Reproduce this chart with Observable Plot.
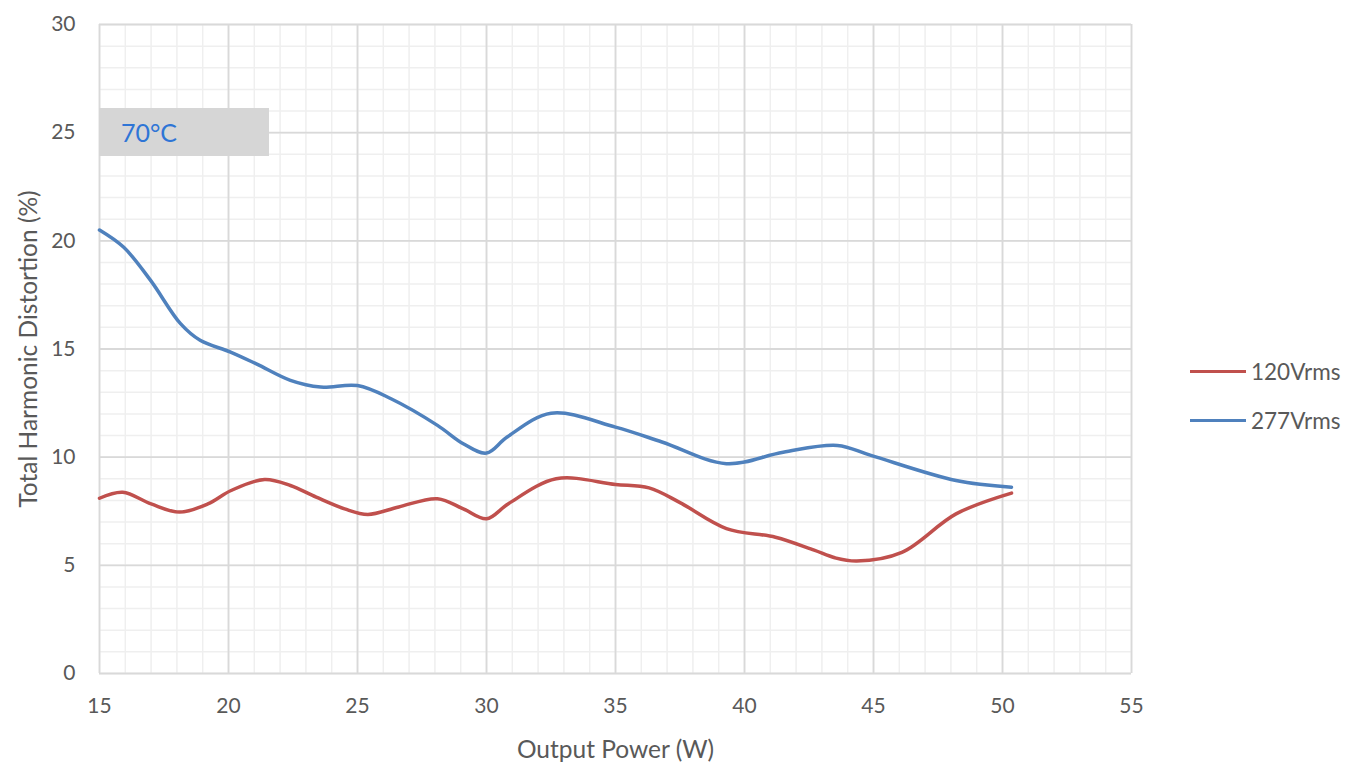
<!DOCTYPE html>
<html>
<head>
<meta charset="utf-8">
<script src="https://cdn.jsdelivr.net/npm/d3@7"></script>
<script src="https://cdn.jsdelivr.net/npm/@observablehq/plot@0.6"></script>
<style>
  html, body { margin: 0; padding: 0; background: #fff; }
  #wrap { position: relative; width: 1348px; height: 763px; font-family: Lato, "Open Sans", sans-serif; }
  #wrap svg { font-family: Lato, "Open Sans", sans-serif; }
  .legend { position: absolute; left: 1190px; font-size: 22.5px; color: #595959; display: flex; align-items: center; }
  .legend .sw { width: 56px; height: 3px; margin-right: 5px; }
  .note { position: absolute; left: 99px; top: 108px; width: 170px; height: 48px; background: #d6d6d6;
          color: #2e75d6; font-size: 25px; line-height: 48px; box-sizing: border-box; padding-left: 22px; }
</style>
</head>
<body>
<div id="wrap"></div>
<script>
// ---- data ----
const x120 = [15, 15.9, 17, 18.1, 19.2, 20.1, 21.4, 22.4, 23.4, 24.5, 25.4, 26.6, 28.1, 29.1, 30, 30.85, 32.7, 35, 36.3, 37.5, 39.3, 41.2, 42.7, 43.5, 44.35, 46.1, 48.2, 50.35];
const y120 = [8.1, 8.38, 7.84, 7.46, 7.84, 8.46, 8.97, 8.69, 8.15, 7.61, 7.35, 7.7, 8.08, 7.61, 7.15, 7.85, 9.0, 8.74, 8.58, 7.9, 6.7, 6.3, 5.7, 5.35, 5.2, 5.6, 7.38, 8.34];
const x277 = [15, 15.94, 16.98, 18.14, 18.9, 20.08, 21.1, 22.4, 23.57, 25, 26.3, 28.1, 29.1, 30, 30.8, 32.5, 35, 36.8, 39.3, 41.5, 43.6, 44.9, 48.2, 50.35];
const y277 = [20.5, 19.7, 18.17, 16.17, 15.4, 14.86, 14.3, 13.55, 13.24, 13.31, 12.7, 11.47, 10.62, 10.19, 10.93, 12.03, 11.39, 10.7, 9.7, 10.23, 10.54, 10.08, 8.92, 8.61];
const seriesNames = ["120Vrms", "277Vrms"];
const seriesColors = ["#c0504d", "#4f81bd"];
const xMajor = [15, 20, 25, 30, 35, 40, 45, 50, 55];
const yMajor = [0, 5, 10, 15, 20, 25, 30];
const xMinor = d3.range(15, 56, 1);
const yMinor = d3.range(0, 31, 1);
const noteText = "70°C";

const rows = [
  ...x120.map((x, i) => ({x, y: y120[i], s: seriesNames[0]})),
  ...x277.map((x, i) => ({x, y: y277[i], s: seriesNames[1]}))
];

const chart = Plot.plot({
  width: 1348,
  height: 763,
  marginLeft: 99,
  marginRight: 217,
  marginTop: 24,
  marginBottom: 90,
  x: {domain: [15, 55]},
  y: {domain: [0, 30]},
  color: {domain: seriesNames, range: seriesColors},
  marks: [
    Plot.gridX(xMinor, {stroke: "#efefef", strokeOpacity: 1, strokeWidth: 1.5}),
    Plot.gridY(yMinor, {stroke: "#efefef", strokeOpacity: 1, strokeWidth: 1.5}),
    Plot.gridX(xMajor, {stroke: "#d9d9d9", strokeOpacity: 1, strokeWidth: 1.8}),
    Plot.gridY(yMajor, {stroke: "#d9d9d9", strokeOpacity: 1, strokeWidth: 1.8}),
    Plot.axisX({ticks: xMajor, tickSize: 0, tickPadding: 25, fontSize: 21, fill: "#595959",
      label: "Output Power (W)", labelArrow: "none", labelAnchor: "center", labelOffset: 84}),
    Plot.axisY({ticks: yMajor, tickSize: 0, tickPadding: 24, fontSize: 21, fill: "#595959",
      label: "Total Harmonic Distortion (%)", labelArrow: "none", labelAnchor: "center", labelOffset: 80}),
    Plot.line(rows, {x: "x", y: "y", z: "s", stroke: "s", strokeWidth: 3.5, curve: "catmull-rom"})
  ]
});

const wrap = document.getElementById("wrap");
wrap.appendChild(chart);

// axis label styling
chart.querySelectorAll('g[aria-label="x-axis label"] text, g[aria-label="y-axis label"] text').forEach(t => {
  t.style.fontSize = "24.5px";
  t.style.fill = "#595959";
});

// annotation box
const note = document.createElement("div");
note.className = "note";
note.textContent = noteText;
wrap.appendChild(note);

// legend
const legendTops = [358, 407];
seriesNames.forEach((name, i) => {
  const d = document.createElement("div");
  d.className = "legend";
  d.style.top = legendTops[i] + "px";
  const sw = document.createElement("div");
  sw.className = "sw";
  sw.style.background = seriesColors[i];
  const t = document.createElement("span");
  t.textContent = name;
  d.appendChild(sw); d.appendChild(t);
  wrap.appendChild(d);
});
</script>
</body>
</html>
